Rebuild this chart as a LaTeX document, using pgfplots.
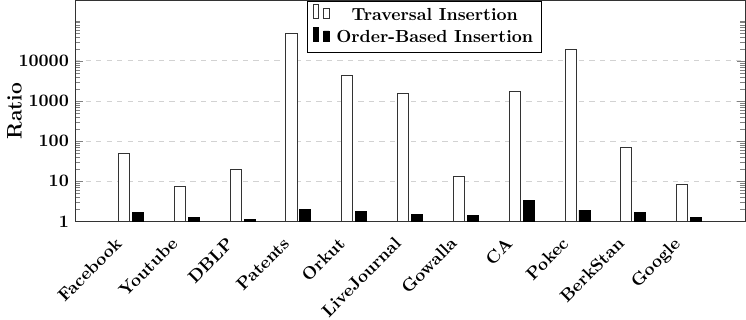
\documentclass[border=0pt]{standalone}
\usepackage{pgfplots}
\pgfplotsset{compat=1.18}
\begin{document}
\begin{tikzpicture}
\begin{axis}[
  width=383pt, height=126.3pt, scale only axis,
  ybar=1.7pt, bar width=6.3pt,
  ymode=log, ymin=1, ymax=320000,
  xmin=-1, xmax=11,
  xtick={0,1,2,3,4,5,6,7,8,9,10},
  xticklabels={Facebook,Youtube,DBLP,Patents,Orkut,LiveJournal,Gowalla,CA,Pokec,BerkStan,Google},
  xticklabel style={xshift=-9.5pt, yshift=0.7pt, rotate=45, anchor=north east, font=\bfseries},
  x tick style={draw=none},
  ytick={1,10,100,1000,10000},
  yticklabels={\textbf{1},\textbf{10},\textbf{100},\textbf{1000},\textbf{10000}},
  minor ytick={2,3,4,5,6,7,8,9,20,30,40,50,60,70,80,90,200,300,400,500,600,700,800,900,2000,3000,4000,5000,6000,7000,8000,9000,20000,30000,40000,50000,60000,70000,80000,90000,100000},
  ymajorgrids, major grid style={dashed, gray!35, line width=0.6pt},
  ylabel={\large\bfseries Ratio},
  ylabel style={at={([xshift=-34.6pt]rel axis cs:0,0.5)}, anchor=center},
  legend style={at={(0.522,1)}, anchor=north, font=\bfseries, legend cell align=center, inner xsep=3pt, inner ysep=2pt, row sep=0.5pt,
    /tikz/every odd column/.append style={column sep=2pt}},
  axis line style={black!80},
]
\addplot[draw=black!80, fill=white] coordinates {
 (0,51) (1,7.7) (2,19.7) (3,49400) (4,4460) (5,1590) (6,13.2) (7,1745) (8,19800) (9,69) (10,8.2)};
\addplot[draw=black, fill=black] coordinates {
 (0,1.67) (1,1.24) (2,1.1) (3,1.95) (4,1.8) (5,1.49) (6,1.41) (7,3.27) (8,1.91) (9,1.65) (10,1.24)};
\legend{Traversal Insertion, Order-Based Insertion}
\coordinate (bl) at (rel axis cs:0,0);
\coordinate (tr) at (rel axis cs:1,1);
\end{axis}
\pgfresetboundingbox
\path ([xshift=-42.9pt,yshift=-56pt]bl) rectangle ([xshift=0.6pt,yshift=0.3pt]tr);
\end{tikzpicture}
\end{document}
